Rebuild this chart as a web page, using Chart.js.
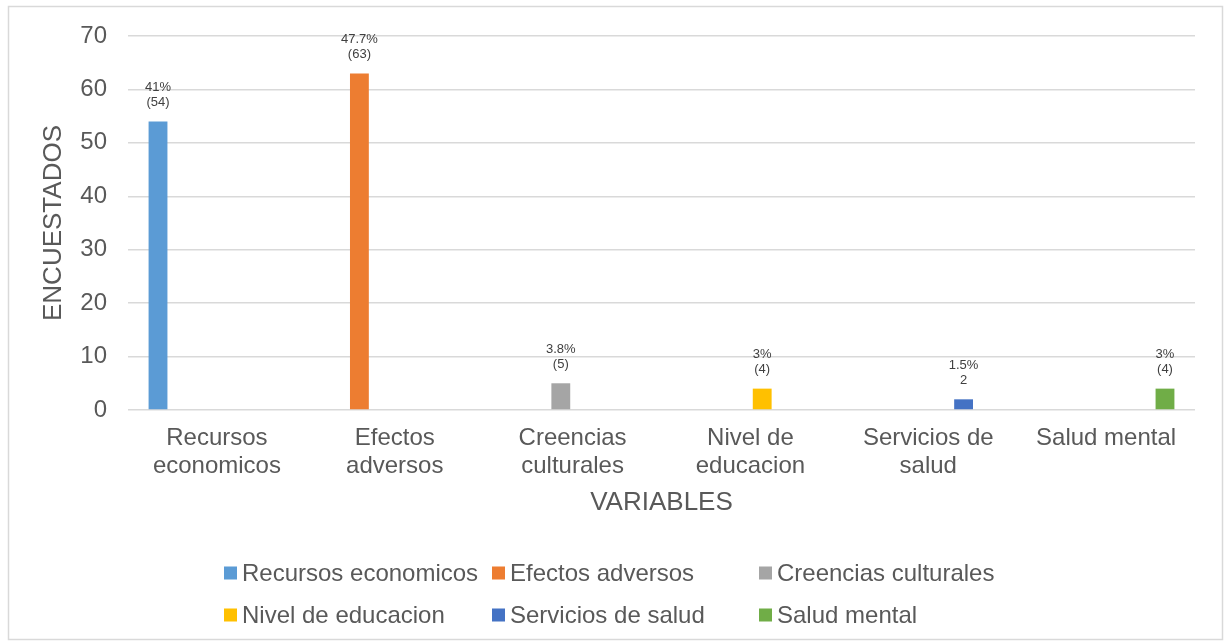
<!DOCTYPE html>
<html>
<head>
<meta charset="utf-8">
<script src="https://cdn.jsdelivr.net/npm/chart.js@4.4.0/dist/chart.umd.min.js"></script>
<style>
  body { margin: 0; background: #fff; }
  #wrap { position: relative; width: 1227px; height: 644px; }
</style>
</head>
<body>
<div id="wrap"><canvas id="myChart" width="1227" height="644"></canvas></div>
<script>
// categorias del eje x (dos lineas cada una)
var categorias = [
    ["Recursos", "economicos"],
    ["Efectos", "adversos"],
    ["Creencias", "culturales"],
    ["Nivel de", "educacion"],
    ["Servicios de", "salud"],
    ["Salud mental"]
];
var series = ["Recursos economicos", "Efectos adversos", "Creencias culturales",
              "Nivel de educacion", "Servicios de salud", "Salud mental"];
var encuestados = [54, 63, 5, 4, 2, 4];
var porcentajes = ["41%", "47.7%", "3.8%", "3%", "1.5%", "3%"];
var etiquetasN = ["(54)", "(63)", "(5)", "(4)", "2", "(4)"];
var colores = ["#5B9BD5", "#ED7D31", "#A5A5A5", "#FFC000", "#4472C4", "#70AD47"];
var yTicks = [0, 10, 20, 30, 40, 50, 60, 70];

var gris = "#595959";
var fuente = "'Liberation Sans', Arial, sans-serif";

// cada serie solo tiene valor en su propia categoria
var datasets = [];
for (var i = 0; i < series.length; i++) {
    var d = [];
    for (var j = 0; j < categorias.length; j++) {
        d.push(i == j ? encuestados[i] : null);
    }
    datasets.push({
        label: series[i],
        data: d,
        backgroundColor: colores[i],
        categoryPercentage: 0.795,
        barPercentage: 0.8
    });
}

var marco = {
    id: 'marco',
    beforeDraw: function(chart) {
        var ctx = chart.ctx;
        ctx.save();
        ctx.strokeStyle = "#d9d9d9";
        ctx.lineWidth = 1.5;
        ctx.strokeRect(8.5, 6.5, 1214, 633);
        ctx.restore();
    }
};

var etiquetas = {
    id: 'etiquetas',
    afterDatasetsDraw: function(chart) {
        var ctx = chart.ctx;
        ctx.save();
        ctx.font = "13px " + fuente;
        ctx.fillStyle = "#404040";
        ctx.textAlign = "center";
        ctx.textBaseline = "middle";
        for (var i = 0; i < chart.data.datasets.length; i++) {
            var meta = chart.getDatasetMeta(i);
            var bar = meta.data[i];
            ctx.fillText(porcentajes[i], bar.x, bar.y - 34);
            ctx.fillText(etiquetasN[i], bar.x, bar.y - 19);
        }
        ctx.restore();
    }
};

var leyenda = {
    id: 'leyenda',
    afterDraw: function(chart) {
        var ctx = chart.ctx;
        var colX = [224, 492, 759];
        var filaY = [573, 615];
        ctx.save();
        ctx.font = "24px " + fuente;
        ctx.textBaseline = "middle";
        ctx.textAlign = "left";
        for (var i = 0; i < series.length; i++) {
            var x = colX[i % 3];
            var y = filaY[Math.floor(i / 3)];
            ctx.fillStyle = colores[i];
            ctx.fillRect(x, y - 6.5, 13, 13);
            ctx.fillStyle = gris;
            ctx.fillText(series[i], x + 18, y + 1);
        }
        ctx.restore();
    }
};

var ctx = document.getElementById('myChart').getContext('2d');
var myChart = new Chart(ctx, {
    type: 'bar',
    data: { labels: categorias, datasets: datasets },
    plugins: [marco, etiquetas, leyenda],
    options: {
        responsive: false,
        animation: false,
        layout: { padding: { top: 36, right: 32, bottom: 100, left: 0 } },
        plugins: {
            legend: { display: false },
            tooltip: { enabled: false }
        },
        scales: {
            x: {
                grid: { display: false, drawTicks: false },
                border: { display: false },
                ticks: {
                    color: gris,
                    font: { size: 24, family: fuente, lineHeight: '28px' },
                    padding: 14,
                    maxRotation: 0,
                    autoSkip: false
                },
                title: {
                    display: true,
                    text: "VARIABLES",
                    color: gris,
                    font: { size: 26, family: fuente },
                    padding: { top: 0, bottom: 26 }
                },
                afterFit: function(scale) { scale.height = 134; }
            },
            y: {
                min: 0,
                max: 70,
                afterBuildTicks: function(scale) {
                    scale.ticks = yTicks.map(function(v) { return { value: v }; });
                },
                grid: { color: "#d9d9d9", lineWidth: 1.5, drawTicks: false },
                border: { display: false },
                ticks: {
                    color: gris,
                    font: { size: 24, family: fuente },
                    padding: 21
                },
                title: {
                    display: true,
                    text: "ENCUESTADOS",
                    color: gris,
                    font: { size: 26, family: fuente },
                    padding: { top: 38, bottom: 0 }
                },
                afterFit: function(scale) { scale.width = 128; }
            }
        }
    }
});
</script>
</body>
</html>
